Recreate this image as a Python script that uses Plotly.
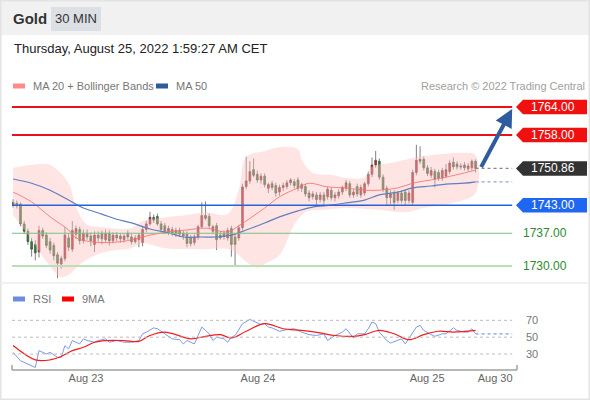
import plotly.graph_objects as go

W, H = 590, 400
FONT = "Arial, Liberation Sans, sans-serif"


def px(x):
    return x / W


def py(y):
    return 1 - y / H


# ---- 30 min candles (index 0 = first bar shown) ----
opens = [1743.6, 1743.0, 1743.2, 1739.0, 1737.4, 1735.2, 1734.6, 1733.0, 1737.6, 1736.6,
         1735.2, 1734.4, 1732.4, 1730.4, 1731.6, 1736.0, 1733.6, 1736.8, 1737.8, 1735.4,
         1737.0, 1736.4, 1734.6, 1736.6, 1737.0, 1735.6, 1737.0, 1735.4, 1736.6, 1736.4,
         1735.6, 1737.0, 1736.2, 1735.2, 1735.6, 1735.0, 1737.8, 1739.0, 1740.4, 1740.6,
         1739.0, 1738.6, 1737.2, 1737.8, 1737.0, 1737.6, 1737.0, 1736.8, 1736.0, 1735.0,
         1736.2, 1738.4, 1740.8, 1740.6, 1737.4, 1738.6, 1736.6, 1737.0, 1736.0, 1738.0,
         1736.2, 1736.0, 1738.2, 1747.0, 1748.2, 1750.6, 1749.6, 1748.4, 1749.2, 1746.6,
         1747.6, 1747.2, 1745.8, 1746.8, 1747.0, 1747.8, 1748.0, 1748.4, 1746.6, 1747.0,
         1745.6, 1744.8, 1745.2, 1744.2, 1745.2, 1744.8, 1746.2, 1744.6, 1745.0, 1745.8,
         1746.6, 1747.6, 1745.2, 1747.0, 1745.2, 1745.6, 1747.6, 1749.6, 1751.6, 1752.4,
         1749.0, 1746.6, 1744.6, 1745.6, 1744.0, 1745.6, 1745.8, 1744.0, 1743.6, 1750.0,
         1752.4, 1752.8, 1751.0, 1749.4, 1750.2, 1750.0, 1748.8, 1749.2, 1750.2, 1752.2,
         1751.8, 1751.4, 1751.6, 1750.8, 1751.0, 1752.4]
highs = [1744.3, 1744.0, 1743.6, 1739.6, 1738.0, 1736.0, 1735.5, 1738.6, 1738.2, 1737.2,
         1736.0, 1735.0, 1733.0, 1732.2, 1738.4, 1737.0, 1739.6, 1738.6, 1738.4, 1737.8,
         1737.8, 1737.2, 1737.4, 1737.4, 1737.6, 1737.8, 1737.6, 1737.2, 1737.2, 1737.0,
         1736.8, 1737.6, 1736.8, 1736.6, 1737.0, 1738.4, 1739.6, 1741.6, 1741.0, 1741.2,
         1739.6, 1739.2, 1738.6, 1738.4, 1738.2, 1738.2, 1737.6, 1737.4, 1736.6, 1736.8,
         1738.8, 1743.6, 1743.8, 1741.2, 1738.8, 1739.2, 1737.4, 1737.6, 1738.2, 1738.6,
         1737.0, 1738.8, 1747.6, 1753.4, 1752.4, 1753.0, 1750.4, 1749.8, 1749.8, 1747.8,
         1748.2, 1747.8, 1747.4, 1747.8, 1748.4, 1748.8, 1748.6, 1749.0, 1747.8, 1747.6,
         1746.2, 1746.0, 1745.8, 1745.8, 1745.8, 1747.0, 1746.8, 1745.8, 1746.4, 1747.2,
         1748.4, 1748.2, 1746.4, 1747.6, 1747.4, 1748.0, 1750.2, 1753.2, 1754.6, 1753.0,
         1749.6, 1747.2, 1746.2, 1746.2, 1746.0, 1746.2, 1746.4, 1746.2, 1750.6, 1755.9,
         1755.6, 1753.4, 1751.6, 1751.2, 1750.8, 1750.6, 1751.0, 1751.8, 1752.6, 1753.2,
         1752.4, 1752.0, 1752.2, 1752.0, 1752.8, 1752.8]
lows = [1742.5, 1742.3, 1738.5, 1736.8, 1734.5, 1732.0, 1731.2, 1731.8, 1735.8, 1733.8,
        1732.6, 1731.2, 1727.4, 1729.4, 1731.0, 1733.2, 1733.0, 1735.8, 1734.6, 1734.8,
        1735.6, 1734.2, 1733.0, 1735.2, 1734.6, 1735.0, 1734.4, 1734.8, 1735.2, 1735.0,
        1735.0, 1735.6, 1734.6, 1734.8, 1734.0, 1734.2, 1737.2, 1738.6, 1739.2, 1738.6,
        1737.2, 1736.8, 1736.6, 1736.4, 1736.2, 1736.2, 1735.6, 1734.0, 1734.2, 1734.4,
        1735.6, 1738.0, 1739.8, 1738.0, 1736.8, 1733.4, 1735.6, 1735.6, 1735.4, 1732.0,
        1730.2, 1735.4, 1737.6, 1746.4, 1747.6, 1749.0, 1747.8, 1747.6, 1746.8, 1745.6,
        1746.2, 1744.8, 1745.0, 1746.0, 1746.4, 1747.2, 1746.6, 1746.0, 1745.8, 1744.8,
        1743.8, 1744.2, 1743.0, 1743.6, 1742.8, 1744.2, 1744.0, 1743.8, 1744.4, 1745.2,
        1746.0, 1744.6, 1744.6, 1744.8, 1744.6, 1745.0, 1747.0, 1749.0, 1751.0, 1748.4,
        1745.8, 1743.0, 1743.2, 1742.0, 1743.4, 1743.4, 1743.0, 1743.4, 1743.0, 1749.4,
        1751.8, 1750.4, 1749.2, 1748.8, 1746.8, 1748.2, 1748.2, 1748.8, 1749.6, 1750.6,
        1750.6, 1750.6, 1750.4, 1750.2, 1750.4, 1750.0]
closes = [1743.0, 1743.4, 1739.0, 1737.4, 1735.2, 1733.6, 1732.8, 1737.6, 1736.4, 1734.4,
          1733.4, 1732.2, 1730.6, 1731.6, 1736.6, 1734.0, 1737.6, 1738.0, 1735.4, 1737.0,
          1736.2, 1735.4, 1736.6, 1736.0, 1735.8, 1737.0, 1735.4, 1736.6, 1736.0, 1735.8,
          1736.4, 1736.2, 1735.2, 1736.0, 1736.6, 1737.8, 1739.0, 1740.4, 1739.8, 1739.0,
          1737.8, 1737.4, 1738.0, 1737.0, 1737.6, 1736.8, 1736.4, 1734.8, 1734.8, 1736.2,
          1738.4, 1740.8, 1740.2, 1738.6, 1738.4, 1735.6, 1736.0, 1736.4, 1737.6, 1734.6,
          1734.6, 1738.2, 1746.9, 1748.2, 1750.2, 1749.4, 1748.4, 1749.2, 1747.4, 1747.4,
          1746.8, 1745.6, 1746.8, 1747.2, 1747.8, 1748.4, 1747.2, 1746.6, 1747.4, 1745.4,
          1744.6, 1745.4, 1744.2, 1745.2, 1744.0, 1746.4, 1744.6, 1745.2, 1745.8, 1746.8,
          1747.8, 1745.2, 1745.8, 1745.4, 1746.8, 1747.6, 1749.6, 1751.6, 1752.6, 1749.0,
          1746.4, 1744.6, 1745.4, 1743.6, 1745.6, 1744.0, 1744.0, 1745.6, 1750.0, 1752.6,
          1752.8, 1751.0, 1749.8, 1750.4, 1748.6, 1748.8, 1750.4, 1750.6, 1752.0, 1751.2,
          1751.2, 1751.2, 1751.0, 1751.4, 1752.4, 1750.86]
bars = list(range(len(closes)))

# ---- indicators (bar index, price) ----
ma20_i = [0, 5, 10, 15, 17, 22, 28, 32, 37, 42, 47, 52, 58, 61, 68, 72, 77, 80, 85, 90,
          95, 99, 104, 108, 113, 117, 122, 125]
ma20_v = [1745.8, 1743.7, 1740.5, 1737.7, 1736.0, 1735.1, 1735.1, 1735.6, 1736.6, 1737.3,
          1737.7, 1738.1, 1737.3, 1738.6, 1742.4, 1744.8, 1746.7, 1747.7, 1746.9, 1746.7,
          1746.2, 1746.2, 1746.7, 1747.7, 1748.4, 1749.0, 1749.9, 1750.5]
ma50_i = [0, 5, 10, 15, 19, 24, 28, 32, 37, 42, 46, 51, 55, 59, 63, 68, 72, 77, 81, 86,
          90, 95, 99, 104, 108, 113, 117, 122, 125]
ma50_v = [1748.6, 1747.7, 1746.2, 1744.1, 1742.4, 1741.1, 1740.0, 1739.2, 1737.9, 1737.1,
          1736.2, 1736.2, 1736.2, 1736.6, 1737.7, 1739.2, 1740.5, 1741.8, 1742.6, 1743.0,
          1743.5, 1744.1, 1745.2, 1745.8, 1746.7, 1747.1, 1747.5, 1747.7, 1748.0]
bb_up_i = [0, 5, 10, 15, 17, 20, 24, 32, 35, 40, 47, 52, 58, 61, 63, 68, 72, 77, 78, 81,
           86, 90, 95, 97, 102, 108, 113, 122, 125]
bb_up_v = [1751.0, 1751.6, 1751.6, 1747.7, 1742.6, 1738.8, 1738.3, 1738.1, 1739.6, 1740.3,
           1740.9, 1741.5, 1741.1, 1746.3, 1753.3, 1754.6, 1755.4, 1755.0, 1752.7, 1749.9,
           1749.5, 1748.8, 1749.0, 1751.2, 1752.0, 1753.1, 1753.7, 1754.2, 1753.7]
bb_lo_i = [0, 5, 9, 13, 15, 19, 24, 28, 32, 35, 41, 51, 59, 63, 66, 69, 72, 76, 79, 84,
           90, 99, 106, 111, 119, 125]
bb_lo_v = [1740.9, 1735.6, 1730.9, 1727.6, 1728.1, 1730.9, 1732.8, 1733.4, 1733.8, 1734.9,
           1733.8, 1733.6, 1733.4, 1730.9, 1729.6, 1730.9, 1732.3, 1738.8, 1741.5, 1742.0,
           1742.4, 1742.0, 1741.5, 1742.4, 1743.5, 1745.6]

# ---- RSI panel ----
rsi_i = [0, 2, 4, 6, 7, 8, 9, 10, 12, 13, 14, 15, 16, 18, 19, 20, 22, 23, 25, 26, 28, 30,
         32, 34, 35, 36, 38, 39, 41, 43, 45, 46, 47, 49, 50, 51, 52, 53, 54, 55, 57, 58,
         59, 60, 62, 64, 65, 67, 68, 69, 70, 72, 74, 76, 78, 80, 82, 84, 85, 87, 89, 90,
         92, 93, 95, 96, 97, 98, 99, 101, 102, 104, 105, 106, 108, 109, 110, 111, 113,
         114, 116, 117, 119, 120, 122, 123, 124, 125]
rsi_v = [32, 22, 18, 14, 34, 32, 30, 32, 26, 26, 40, 36, 46, 42, 48, 46, 44, 46, 48, 44, 46, 44,
         44, 46, 54, 56, 61, 60, 54, 48, 47, 42, 46, 42, 52, 62, 58, 54, 46, 50, 48, 44,
         50, 52, 66, 71, 69, 65, 66, 62, 61, 57, 59, 60, 56, 53, 52, 54, 46, 52, 56, 60,
         49, 54, 54, 60, 68, 66, 56, 46, 43, 46, 48, 42, 56, 62, 64, 58, 53,
         51, 54, 54, 61, 58, 56, 56, 60, 54]
ma9_i = [0, 6, 10, 13, 16, 19, 22, 25, 30, 34, 37, 41, 44, 48, 52, 56, 59, 63, 68, 73, 78,
         83, 87, 92, 95, 99, 103, 107, 111, 115, 119, 125]
ma9_v = [40, 23, 23, 27, 34, 38, 44, 46, 46, 45, 52, 56, 53, 48, 51, 53, 49, 57, 66, 60, 58,
         55, 52, 51, 53, 58, 54, 47, 53, 57, 56, 58]
rsi_levels = [70, 50, 30]

# ---- levels and labels ----
res_levels = [1764.00, 1758.00]
pivot = 1743.00
sup_levels = [1737.00, 1730.00]
last_price = 1750.86
tick_pos = [19.7, 66.2, 111.9, 130.3]
tick_txt = ["Aug 23", "Aug 24", "Aug 25", "Aug 30"]

X_RANGE = [-0.3, 136.2]
X_END = 134.9          # where the level lines stop
P_RANGE = [1726.57, 1766.57]
R_RANGE = [11.0, 88.2]

fig = go.Figure()

# bollinger band as one closed polygon
fig.add_trace(go.Scatter(
    x=bb_up_i + bb_lo_i[::-1], y=bb_up_v + bb_lo_v[::-1],
    fill="toself", fillcolor="rgba(255,190,190,0.42)", line=dict(width=0, shape="spline"),
    mode="lines", hoverinfo="skip", showlegend=False))
fig.add_trace(go.Scatter(x=ma20_i, y=ma20_v, mode="lines",
                         line=dict(color="rgba(250,110,110,0.85)", width=1, shape="spline"),
                         showlegend=False))
fig.add_trace(go.Scatter(x=ma50_i, y=ma50_v, mode="lines",
                         line=dict(color="#5f7fbf", width=1.2, shape="spline"),
                         showlegend=False))
fig.add_trace(go.Scatter(x=[ma50_i[-1], X_END], y=[ma50_v[-1], ma50_v[-1]], mode="lines",
                         line=dict(color="#8fa6d6", width=1.2, dash="dot"), showlegend=False))
fig.add_trace(go.Scatter(x=[bars[-1], X_END], y=[last_price, last_price], mode="lines",
                         line=dict(color="#888888", width=1.2, dash="dot"), showlegend=False))

fig.add_trace(go.Candlestick(
    x=bars, open=opens, high=highs, low=lows, close=closes,
    increasing=dict(line=dict(color="#4a4a4a", width=0.7), fillcolor="#f0121a"),
    decreasing=dict(line=dict(color="#4a4a4a", width=0.7), fillcolor="#1f8f1f"),
    whiskerwidth=0, showlegend=False))

# RSI
fig.add_trace(go.Scatter(x=rsi_i, y=rsi_v, xaxis="x2", yaxis="y2", mode="lines",
                         line=dict(color="#7c9ae6", width=1), showlegend=False))
fig.add_trace(go.Scatter(x=[rsi_i[-1], X_END], y=[rsi_v[-1], rsi_v[-1]], xaxis="x2", yaxis="y2",
                         mode="lines", line=dict(color="#7c9ae6", width=1.2, dash="dot"),
                         showlegend=False))
fig.add_trace(go.Scatter(x=ma9_i, y=ma9_v, xaxis="x2", yaxis="y2", mode="lines",
                         line=dict(color="#f21c1c", width=1.2, shape="spline"), showlegend=False))

shapes = []
ann = []


def text(x, y, s, size=11, color="#777777", xanchor="left", xref="paper", yref="paper"):
    ann.append(dict(xref=xref, yref=yref, x=x, y=y, text=s, showarrow=False,
                    xanchor=xanchor, yanchor="middle",
                    font=dict(color=color, size=size, family=FONT)))


# header bar + frame
shapes.append(dict(type="rect", xref="paper", yref="paper", x0=0, x1=1, y0=py(35), y1=1,
                   fillcolor="#f1f1f1", line=dict(width=0), layer="below"))
shapes.append(dict(type="rect", xref="paper", yref="paper", x0=px(51), x1=px(101),
                   y0=py(31), y1=py(7), fillcolor="#dcdfe4", line=dict(width=0), layer="below"))
shapes.append(dict(type="rect", xref="paper", yref="paper", x0=0, x1=1, y0=0, y1=1,
                   line=dict(color="#e3e3e3", width=3)))
shapes.append(dict(type="line", xref="paper", yref="paper", x0=0, x1=1, y0=py(283), y1=py(283),
                   line=dict(color="#ececec", width=1.5)))

# level lines
for lv in res_levels:
    shapes.append(dict(type="line", xref="x", yref="y", x0=X_RANGE[0], x1=X_END, y0=lv, y1=lv,
                       line=dict(color="#e8101a", width=2)))
shapes.append(dict(type="line", xref="x", yref="y", x0=X_RANGE[0], x1=X_END, y0=pivot, y1=pivot,
                   line=dict(color="#2464d8", width=1.5)))
shapes.append(dict(type="line", xref="x", yref="y", x0=X_RANGE[0], x1=X_END, y0=sup_levels[0],
                   y1=sup_levels[0], line=dict(color="#7fbf7f", width=1.2)))
shapes.append(dict(type="line", xref="x", yref="y", x0=X_RANGE[0], x1=X_END, y0=sup_levels[1],
                   y1=sup_levels[1], line=dict(color="#b9dfb9", width=2)))


def tag(price, color):
    h = 1.55
    path = (f"M {px(516)} {price} L {px(523)} {price + h} L {px(587)} {price + h} "
            f"L {px(587)} {price - h} L {px(523)} {price - h} Z")
    shapes.append(dict(type="path", xref="paper", yref="y", path=path, fillcolor=color,
                       line=dict(width=0)))
    text(px(553), price, f"{price:.2f}", size=12, color="white", xanchor="center", yref="y")


for lv in res_levels:
    tag(lv, "#f01010")
tag(last_price, "#333333")
tag(pivot, "#1f66f0")
for lv in sup_levels:
    text(px(545), lv, f"{lv:.2f}", size=12, color="#2a8c2a", xanchor="center", yref="y")

# forecast arrow
ann.append(dict(xref="x", yref="y", axref="x", ayref="y", x=X_END, y=1763.6,
                ax=126.3, ay=last_price, showarrow=True, arrowhead=2, arrowsize=0.9,
                arrowwidth=4, arrowcolor="#2e5c9e", text=""))

# rsi grid + bottom axis
for lv in rsi_levels:
    shapes.append(dict(type="line", xref="x2", yref="y2", x0=X_RANGE[0], x1=X_END, y0=lv, y1=lv,
                       line=dict(color="#bbbbbb", width=1, dash="dot")))
    text(px(524), lv, str(lv), yref="y2")
shapes.append(dict(type="line", xref="paper", yref="paper", x0=px(12), x1=px(517),
                   y0=py(370), y1=py(370), line=dict(color="#a0a0a0", width=1.5)))
for xe in (12, 517):
    shapes.append(dict(type="line", xref="paper", yref="paper", x0=px(xe), x1=px(xe),
                       y0=py(370), y1=py(365), line=dict(color="#a0a0a0", width=1.5)))

# header text
text(px(11), py(19), "<b>Gold</b>", size=15, color="#333333")
text(px(76), py(19), "30 MIN", size=13, color="#333333", xanchor="center")
text(px(12), py(48), "Thursday, August 25, 2022 1:59:27 AM CET", size=13, color="#222222")
text(px(587), py(86), "Research © 2022 Trading Central", color="#a0a0a0", xanchor="right")

# hand-made legends
legend_items = [(13, 86, "#ff8a8a", "MA 20 + Bollinger Bands"), (156, 86, "#2f5b9e", "MA 50"),
                (13, 299, "#6b8de0", "RSI"), (62, 299, "#ff0000", "9MA")]
for lx, ly, col, txt in legend_items:
    shapes.append(dict(type="rect", xref="paper", yref="paper", x0=px(lx), x1=px(lx + 12),
                       y0=py(ly + 2.5), y1=py(ly - 2.5), fillcolor=col, line=dict(width=0)))
    text(px(lx + 18), py(ly), txt)

fig.update_layout(
    width=W, height=H, margin=dict(l=0, r=0, t=0, b=0),
    paper_bgcolor="white", plot_bgcolor="rgba(0,0,0,0)",
    font=dict(family=FONT), showlegend=False, hovermode=False,
    shapes=shapes, annotations=ann,
    xaxis=dict(domain=[px(12), px(517)], range=X_RANGE, visible=False,
               rangeslider=dict(visible=False), anchor="y"),
    yaxis=dict(domain=[py(282), py(95)], range=P_RANGE, visible=False, anchor="x"),
    xaxis2=dict(domain=[px(12), px(517)], range=X_RANGE, anchor="y2", matches="x",
                showgrid=False, zeroline=False, showline=False, ticks="",
                tickvals=tick_pos, ticktext=tick_txt,
                tickfont=dict(color="#666666", size=11, family=FONT)),
    yaxis2=dict(domain=[py(370), py(305)], range=R_RANGE, visible=False, anchor="x2"),
)

fig.write_html("out.html", config={"displayModeBar": False},
               post_script="document.body.style.margin='0';document.body.style.overflow='hidden';")
